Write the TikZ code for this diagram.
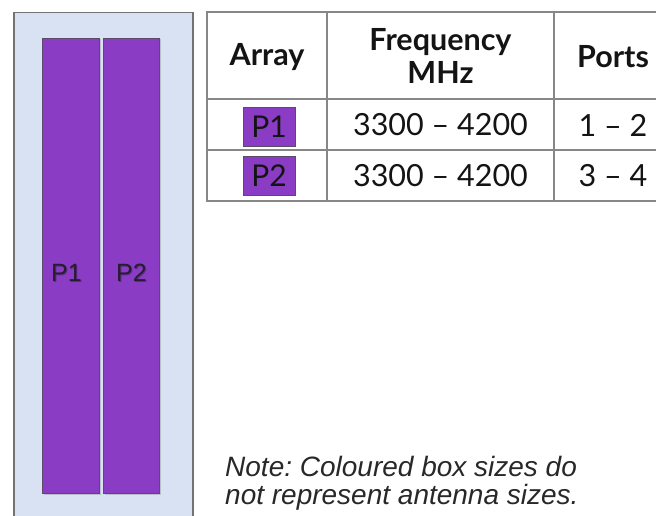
\documentclass[tikz,border=0pt]{standalone}
\usepackage{fontspec}
\setmainfont{Lato}
\newfontfamily\arialf{Liberation Sans}
\usetikzlibrary{shadows}
\frenchspacing
\definecolor{panelblue}{RGB}{217,226,243}
\definecolor{panelgray}{RGB}{115,115,115}
\definecolor{purp}{RGB}{138,60,196}
\definecolor{purpedge}{RGB}{90,75,105}
\definecolor{gridgray}{RGB}{135,135,135}
\definecolor{txtdark}{RGB}{20,20,20}
\definecolor{labdark}{RGB}{38,30,48}
\definecolor{notegray}{RGB}{40,40,40}
\tikzset{
  panel/.style={draw=panelgray,line width=1.5pt,fill=panelblue},
  bar/.style={draw=purpedge,line width=1pt,fill=purp,drop shadow={shadow xshift=1pt,shadow yshift=-1pt,opacity=0.35}},
  barlabel/.style={font=\arialf\fontsize{25}{28}\selectfont,text=labdark},
  barshadow/.style={font=\arialf\fontsize{25}{28}\selectfont,text=black,opacity=0.3},
  grid/.style={draw=gridgray,line width=1.8pt},
  hdr/.style={font=\bfseries\fontsize{30.5}{33}\selectfont,text=txtdark,align=center,inner sep=0pt},
  cell/.style={font=\fontsize{30.5}{33}\selectfont,text=txtdark,inner sep=0pt},
  tagbox/.style={draw=purpedge,line width=0.8pt,fill=purp,minimum width=52pt,minimum height=39pt,inner sep=0pt,font=\fontsize{30}{33}\selectfont,text=txtdark},
  note/.style={font=\arialf\itshape\fontsize{28}{31}\selectfont,text=notegray,anchor=west,inner sep=0pt}
}
\begin{document}
\begin{tikzpicture}[x=1pt,y=-1pt]
\useasboundingbox (0,0) rectangle (656,516);
\clip (0,0) rectangle (656,516);
% panel
\node[panel,anchor=north west,minimum width=179pt,minimum height=530pt,inner sep=0pt] (panel) at (13,12) {};
\node[bar,anchor=north west,minimum width=57pt,minimum height=455pt,inner sep=0pt] (bar1) at (42,38) {};
\node[bar,anchor=north west,minimum width=56pt,minimum height=455pt,inner sep=0pt] (bar2) at (103,38) {};
\node[barshadow] (lab1s) at (67.5,274) {P1};
\node[barshadow] (lab2s) at (132.5,274) {P2};
\node[barlabel] (lab1) at (66.5,273) {P1};
\node[barlabel] (lab2) at (131.5,273) {P2};
% table grid
\draw[grid] (207,12) rectangle (672,201);
\draw[grid] (207,99) -- (672,99);
\draw[grid] (207,150) -- (672,150);
\draw[grid] (327,12) -- (327,201);
\draw[grid] (554,12) -- (554,201);
% header
\node[hdr] (hArray) at (267,57) {Array};
\node[hdr] (hFreq) at (440.5,56) {Frequency\\MHz};
\node[hdr] (hPorts) at (613,57) {Ports};
% rows
\node[tagbox] (t1) at (269,126.5) {P1};
\node[cell] (f1) at (440.5,125) {3300 – 4200};
\node[cell] (p1) at (613,125) {1 – 2};
\node[tagbox] (t2) at (269,175.5) {P2};
\node[cell] (f2) at (440.5,176) {3300 – 4200};
\node[cell] (p2) at (613,176) {3 – 4};
% note
\node[note] (n1) at (225,466) {Note: Coloured box sizes do};
\node[note] (n2) at (225,497) {not represent antenna sizes.};
\end{tikzpicture}
\end{document}
